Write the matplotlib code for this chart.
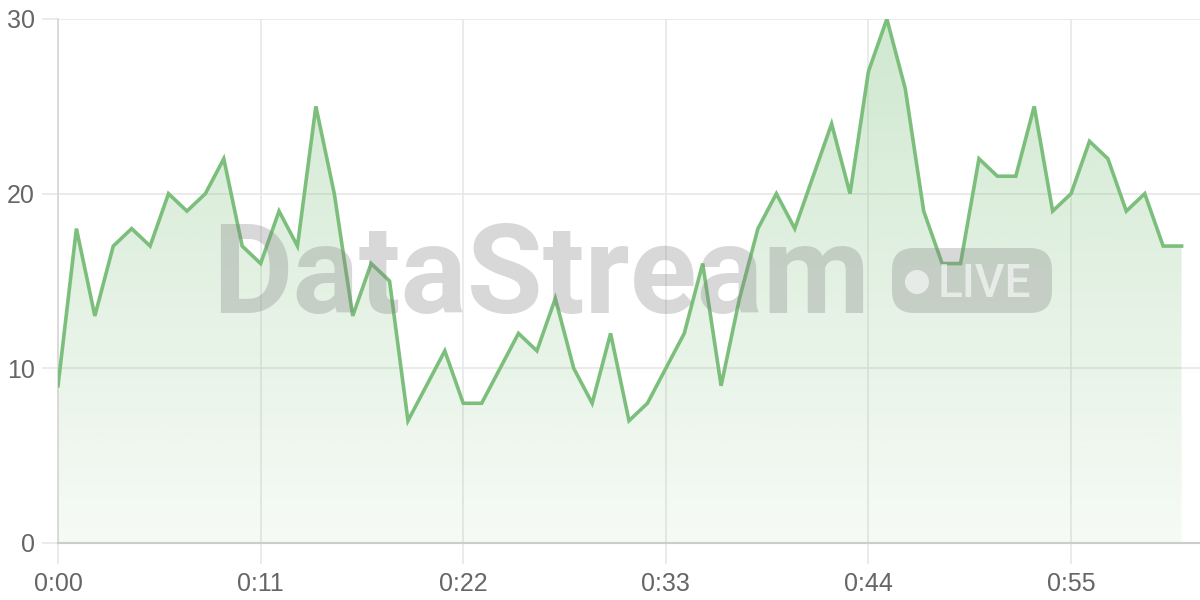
import numpy as np
import matplotlib.pyplot as plt
from matplotlib.patches import FancyBboxPatch, Circle
from matplotlib.colors import to_rgb

plt.rcParams['font.family'] = ['Liberation Sans', 'DejaVu Sans']

# one reading per second, 0:00 .. 1:01
seconds = list(range(62))
values = [9, 18, 13, 17, 18, 17, 20, 19, 20, 22, 17, 16, 19, 17, 25, 20, 13, 16,
          15, 7, 9, 11, 8, 8, 10, 12, 11, 14, 10, 8, 12, 7, 8, 10, 12, 16, 9, 14,
          18, 20, 18, 21, 24, 20, 27, 30, 26, 19, 16, 16, 22, 21, 21, 25, 19, 20,
          23, 22, 19, 20, 17, 17]
x_ticks = [0, 11, 22, 33, 44, 55]
x_labels = ['0:00', '0:11', '0:22', '0:33', '0:44', '0:55']
y_ticks = [0, 10, 20, 30]

line_color = '#7cbf7c'
grid_color = '#e6e6e6'
text_color = '#666666'
W, H = 1200, 600
px = 72 / 100  # points per pixel at dpi 100

fig = plt.figure(figsize=(12, 6), dpi=100)
ax = fig.add_axes([58 / W, 57 / H, 1142 / W, 524 / H])
ax.set_xlim(0, 62)
ax.set_ylim(0, 30)

# gradient fill under the line
rgb = to_rgb(line_color)
n = 256
grad = np.zeros((n, 1, 4))
grad[:, 0, :3] = rgb
grad[:, 0, 3] = np.linspace(0.36, 0.07, n)
poly = ax.fill_between(seconds, values, 0, color='none', lw=0)
img = ax.imshow(grad, extent=[0, seconds[-1], 0, 30], origin='upper',
                aspect='auto', zorder=1)
img.set_clip_path(poly.get_paths()[0], transform=ax.transData)

# watermark, placed in figure pixels
wm_color = '#808080'
wm_alpha = 0.3
wm = fig.text(212 / W, 1 - 313 / H, 'DataStream', fontsize=86,
              fontweight='bold', family=['Roboto', 'DejaVu Sans'],
              color=wm_color, alpha=wm_alpha, ha='left', va='baseline',
              zorder=2)
fig.canvas.draw()
bb = wm.get_window_extent()
wm.set_fontsize(86 * 658 / bb.width)

badge = FancyBboxPatch((892 / W, 1 - 313 / H), 160 / W, 65 / H,
                       transform=fig.transFigure,
                       boxstyle='round,pad=0,rounding_size=%f' % (22 / W),
                       mutation_aspect=W / H,
                       fc=wm_color, ec='none', alpha=wm_alpha, zorder=2)
fig.patches.append(badge)
fig.patches.append(Circle((917, H - 282), 12, transform=None,
                          fc='white', ec='none', alpha=0.6, zorder=3))
fig.text(938 / W, 1 - 297 / H, 'LIVE', fontsize=33,
         family=['Roboto', 'DejaVu Sans'], fontweight='medium',
         color='white', alpha=0.6, ha='left', va='baseline', zorder=3)

ax.plot(seconds, values, color=line_color, lw=2.6, zorder=3,
        solid_joinstyle='miter')

ax.set_xticks(x_ticks)
ax.set_xticklabels(x_labels)
ax.set_yticks(y_ticks)
ax.grid(True, color=grid_color, lw=1.1, zorder=0)
ax.set_axisbelow(True)
ax.tick_params(axis='x', length=21 * px, width=1.1, color=grid_color,
               labelcolor=text_color, labelsize=18, pad=8 * px)
ax.tick_params(axis='y', length=16 * px, width=1.1, color=grid_color,
               labelcolor=text_color, labelsize=18, pad=7 * px)
for s in ['top', 'right']:
    ax.spines[s].set_visible(False)
ax.spines['left'].set_color('#d6d6d6')
ax.spines['bottom'].set_color('#cccccc')
ax.spines['left'].set_linewidth(1.2)
ax.spines['bottom'].set_linewidth(1.5)

fig.savefig('out.png', dpi=100)
